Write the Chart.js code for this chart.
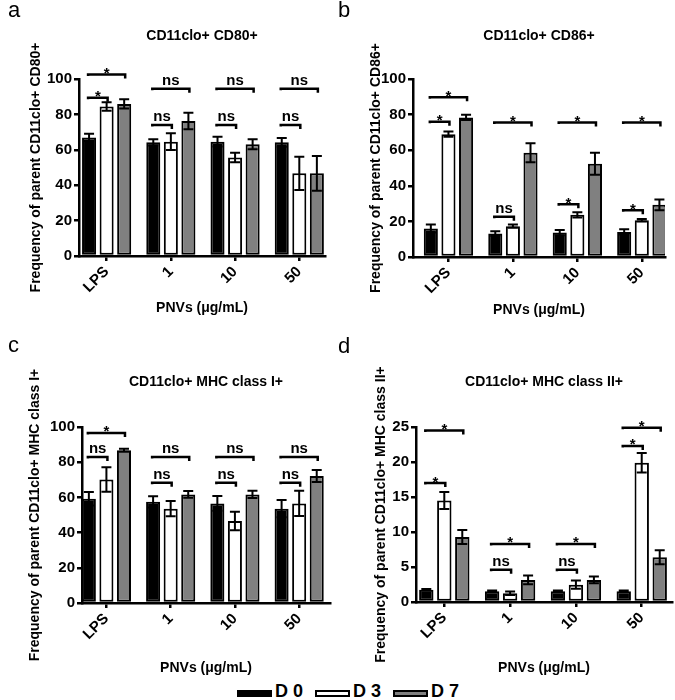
<!DOCTYPE html>
<html>
<head>
<meta charset="utf-8">
<script src="https://cdn.jsdelivr.net/npm/chart.js"></script>
<style>
  body { margin: 0; background: #fff; width: 675px; height: 700px; position: relative; overflow: hidden; font-family: "Liberation Sans", Arial, sans-serif; }
  canvas { position: absolute; }
  #legend { position: absolute; left: 237px; top: 681px; font: bold 18px "Liberation Sans", Arial, sans-serif; line-height: 20px; white-space: nowrap; }
  #legend .box { display: inline-block; width: 31px; height: 3px; border: 2px solid #000; margin-right: 3px; }
  #legend .item { margin-right: 12px; }
</style>
</head>
<body>
<canvas id="pa" width="337" height="320" style="left:0;top:0"></canvas>
<canvas id="pb" width="338" height="320" style="left:337px;top:0"></canvas>
<canvas id="pc" width="337" height="360" style="left:0;top:320px"></canvas>
<canvas id="pd" width="338" height="360" style="left:337px;top:320px"></canvas>
<div id="legend"></div>
<script>
const categories = ['LPS', '1', '10', '50']
const days = ['D 0', 'D 3', 'D 7']
const dayColors = ['#000000', '#ffffff', '#808080']

// rows: D 0, D 3, D 7 ; columns follow categories
const cd80Mean = [[67, 64.2, 64.6, 64.2], [84.4, 64.6, 55.7, 46.7], [85.9, 76.3, 63.1, 46.7]]
const cd80Err = [[2, 1.7, 2.8, 2.5], [2.4, 4.7, 2.7, 9.4], [2.6, 4.7, 2.8, 9.8]]
const cd86Mean = [[16, 13.2, 13.7, 14.1], [69, 17.3, 23.7, 20.7], [78.4, 58.6, 52.4, 29.3]]
const cd86Err = [[2.3, 1.3, 1.5, 1.5], [1.5, 0.9, 1.5, 0.7], [1.5, 5.3, 6.2, 3]]
const mhc1Mean = [[59.2, 57.5, 56.6, 53.6], [70.2, 53.6, 46.6, 56.6], [86.8, 61.7, 61.7, 72.1]]
const mhc1Err = [[3.8, 3.2, 4.2, 4.9], [7, 4.3, 5.3, 7.2], [0.8, 1.9, 2.1, 3.4]]
const mhc2Mean = [[1.75, 1.55, 1.55, 1.55], [14.5, 1.26, 2.48, 19.9], [9.27, 3.16, 3.16, 6.4]]
const mhc2Err = [[0.1, 0.1, 0.1, 0.1], [1.2, 0.25, 0.58, 1.4], [1.0, 0.63, 0.49, 1.0]]

// significance brackets: [category, from day, to day, height, label]
const cd80Sig = [[0, 0, 1, 89.4, '*'], [0, 0, 2, 102.6, '*'], [1, 0, 1, 74, 'ns'], [1, 0, 2, 94.5, 'ns'],
  [2, 0, 1, 74, 'ns'], [2, 0, 2, 94.5, 'ns'], [3, 0, 1, 74, 'ns'], [3, 0, 2, 94.5, 'ns']]
const cd86Sig = [[0, 0, 1, 76, '*'], [0, 0, 2, 89.7, '*'], [1, 0, 1, 22.6, 'ns'], [1, 0, 2, 75.6, '*'],
  [2, 0, 1, 29.7, '*'], [2, 0, 2, 75.6, '*'], [3, 0, 1, 26.3, '*'], [3, 0, 2, 75.6, '*']]
const mhc1Sig = [[0, 0, 1, 83, 'ns'], [0, 0, 2, 96.6, '*'], [1, 0, 1, 68.3, 'ns'], [1, 0, 2, 83, 'ns'],
  [2, 0, 1, 68.3, 'ns'], [2, 0, 2, 83, 'ns'], [3, 0, 1, 68.3, 'ns'], [3, 0, 2, 83, 'ns']]
const mhc2Sig = [[0, 0, 1, 17, '*'], [0, 0, 2, 24.5, '*'], [1, 0, 1, 4.6, 'ns'], [1, 0, 2, 8.3, '*'],
  [2, 0, 1, 4.6, 'ns'], [2, 0, 2, 8.3, '*'], [3, 0, 1, 22.3, '*'], [3, 0, 2, 24.9, '*']]

const FONT = '"Liberation Sans", Arial, sans-serif'
Chart.defaults.font.family = FONT
Chart.defaults.color = '#000'

// error bars, brackets and panel letter
const annotPlugin = {
  id: 'annot',
  afterDatasetsDraw(chart, args, opts) {
    const ctx = chart.ctx
    const y = chart.scales.y
    ctx.save()
    ctx.strokeStyle = '#000'
    ctx.lineWidth = 2
    opts.means.forEach((row, d) => {
      const meta = chart.getDatasetMeta(d)
      row.forEach((v, i) => {
        const x = meta.data[i].x
        const top = y.getPixelForValue(v + opts.errs[d][i])
        const bot = y.getPixelForValue(Math.max(v - opts.errs[d][i], 0))
        ctx.beginPath()
        ctx.moveTo(x, top); ctx.lineTo(x, bot)
        ctx.moveTo(x - 5, top); ctx.lineTo(x + 5, top)
        ctx.moveTo(x - 5, bot); ctx.lineTo(x + 5, bot)
        ctx.stroke()
      })
    })
    ctx.restore()
  },
  afterDraw(chart, args, opts) {
    const ctx = chart.ctx
    const y = chart.scales.y
    ctx.save()
    ctx.strokeStyle = '#000'
    ctx.fillStyle = '#000'
    ctx.textAlign = 'center'
    ctx.textBaseline = 'alphabetic'
    opts.sig.forEach(([i, a, b, v, label]) => {
      const x1 = chart.getDatasetMeta(a).data[i].x - 1
      const x2 = chart.getDatasetMeta(b).data[i].x + 1
      const yy = y.getPixelForValue(v)
      ctx.lineWidth = 2.5
      ctx.beginPath()
      ctx.moveTo(x1, yy + 1.5); ctx.lineTo(x1, yy); ctx.lineTo(x2, yy); ctx.lineTo(x2, yy + 4)
      ctx.stroke()
      if (label === '*') {
        ctx.font = 'bold 15px ' + FONT
        ctx.fillText(label, (x1 + x2) / 2, yy + 3.5)
      } else {
        ctx.font = 'bold 15px ' + FONT
        ctx.fillText(label, (x1 + x2) / 2, yy - 4)
      }
    })
    ctx.textAlign = 'left'
    ctx.font = '22px ' + FONT
    ctx.fillText(opts.letter, opts.lx, opts.ly)
    ctx.restore()
  }
}

const panels = [
  { id: 'pa', letter: 'a', lx: 8, ly: 17, title: 'CD11clo+ CD80+', yTitle: 'Frequency of parent CD11clo+ CD80+',
    means: cd80Mean, errs: cd80Err, sig: cd80Sig, yMax: 100, yStep: 20, xr: [-0.43, 3.40],
    area: { l: 79, r: 325, t: 79, b: 256 }, titleY: 36, yTitleX: 36, xTitleY: 308 },
  { id: 'pb', letter: 'b', lx: 1, ly: 17, title: 'CD11clo+ CD86+', yTitle: 'Frequency of parent CD11clo+ CD86+',
    means: cd86Mean, errs: cd86Err, sig: cd86Sig, yMax: 100, yStep: 20, xr: [-0.55, 3.36],
    area: { l: 76, r: 328, t: 79, b: 257 }, titleY: 36, yTitleX: 39, xTitleY: 310 },
  { id: 'pc', letter: 'c', lx: 8, ly: 32, title: 'CD11clo+ MHC class I+', yTitle: 'Frequency of parent CD11clo+ MHC class I+',
    means: mhc1Mean, errs: mhc1Err, sig: mhc1Sig, yMax: 100, yStep: 20, xr: [-0.38, 3.48],
    area: { l: 82, r: 330, t: 107, b: 283 }, titleY: 62, yTitleX: 35, xTitleY: 348 },
  { id: 'pd', letter: 'd', lx: 1, ly: 33, title: 'CD11clo+ MHC class II+', yTitle: 'Frequency of parent CD11clo+ MHC class II+',
    means: mhc2Mean, errs: mhc2Err, sig: mhc2Sig, yMax: 25, yStep: 5, xr: [-0.43, 3.46],
    area: { l: 79, r: 335, t: 107, b: 282 }, titleY: 62, yTitleX: 44, xTitleY: 348 }
]

const axisGrid = { display: true, drawOnChartArea: false, drawTicks: true, tickLength: 5, color: '#000', lineWidth: 2.5, offset: false }

const makePanel = (p) => {
  const canvas = document.getElementById(p.id)
  const w = canvas.width
  const h = canvas.height
  return new Chart(canvas, {
    type: 'bar',
    data: {
      datasets: p.means.map((row, d) => ({
        label: days[d],
        data: row.map((v, i) => ({ x: i, y: v })),
        backgroundColor: dayColors[d],
        borderColor: '#000',
        borderWidth: 2,
        borderSkipped: false,
        categoryPercentage: 0.82,
        barPercentage: 0.8
      }))
    },
    options: {
      responsive: false,
      animation: false,
      events: [],
      layout: { padding: { left: 0, top: 0, bottom: 0, right: w - p.area.r } },
      plugins: {
        legend: { display: false },
        tooltip: { enabled: false },
        title: {
          display: true,
          text: p.title,
          fullSize: false,
          font: { size: 14, weight: 'bold' },
          padding: { top: p.titleY - 8.4, bottom: p.area.t - p.titleY - 8.4 }
        },
        annot: { means: p.means, errs: p.errs, sig: p.sig, letter: p.letter, lx: p.lx, ly: p.ly }
      },
      scales: {
        x: {
          type: 'linear',
          min: p.xr[0],
          max: p.xr[1],
          offset: false,
          grid: axisGrid,
          border: { color: '#000', width: 2.5 },
          afterBuildTicks: (s) => { s.ticks = categories.map((c, i) => ({ value: i })) },
          afterFit: (s) => { s.height = h - p.area.b },
          ticks: {
            autoSkip: false,
            minRotation: 45,
            maxRotation: 45,
            padding: 2,
            font: { size: 15, weight: 'bold' },
            callback: (v) => categories[v]
          },
          title: {
            display: true,
            text: 'PNVs (μg/mL)',
            font: { size: 14, weight: 'bold' },
            padding: { top: 0, bottom: h - p.xTitleY - 8.4 }
          }
        },
        y: {
          min: 0,
          max: p.yMax,
          grid: axisGrid,
          border: { color: '#000', width: 2.5 },
          afterFit: (s) => { s.width = p.area.l },
          ticks: { stepSize: p.yStep, padding: 2, font: { size: 15, weight: 'bold' } },
          title: {
            display: true,
            text: p.yTitle,
            font: { size: 14, weight: 'bold' },
            padding: { top: p.yTitleX - 8.4, bottom: 0 }
          }
        }
      }
    },
    plugins: [annotPlugin]
  })
}

panels.forEach(makePanel)

// legend
const legend = document.getElementById('legend')
days.forEach((name, d) => {
  const box = document.createElement('span')
  box.className = 'box'
  box.style.background = dayColors[d]
  const txt = document.createElement('span')
  txt.className = 'item'
  txt.textContent = name
  legend.appendChild(box)
  legend.appendChild(txt)
})
</script>
</body>
</html>
